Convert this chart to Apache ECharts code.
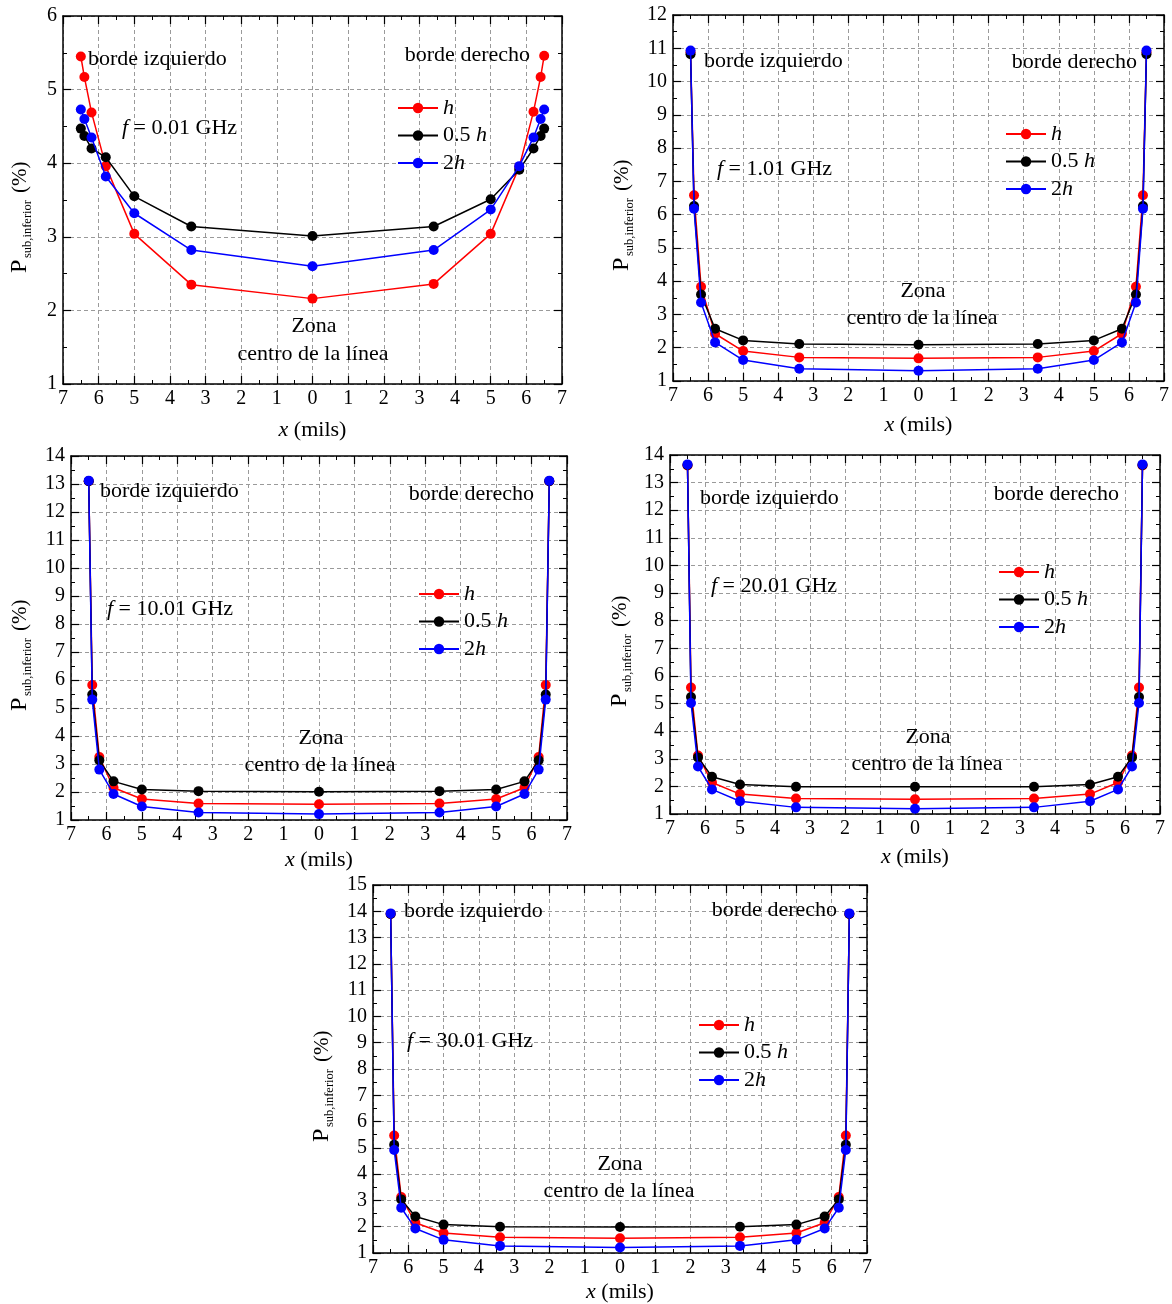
<!DOCTYPE html>
<html>
<head>
<meta charset="utf-8">
<script src="https://cdn.jsdelivr.net/npm/echarts@6/dist/echarts.min.js"></script>
<style>
html,body{margin:0;padding:0;background:#fff;}
#c{width:1172px;height:1304px;}
</style>
</head>
<body>
<div id="c"></div>
<script>
// ---------- DATA ----------
const xPos = [-6.5, -6.4, -6.2, -5.8, -5, -3.4, 0, 3.4, 5, 5.8, 6.2, 6.4, 6.5];
const seriesNames = ['h', '0.5 h', '2h'];
const freqLabels = ['0.01', '1.01', '10.01', '20.01', '30.01'];
const yMaxes = [6, 12, 14, 14, 15];

// f = 0.01 GHz
const p1_h   = [5.45, 5.17, 4.69, 3.96, 3.04, 2.35, 2.16, 2.36, 3.04, 3.95, 4.70, 5.17, 5.46];
const p1_05h = [4.47, 4.37, 4.20, 4.08, 3.55, 3.14, 3.01, 3.14, 3.51, 3.91, 4.20, 4.37, 4.47];
const p1_2h  = [4.73, 4.60, 4.35, 3.82, 3.32, 2.82, 2.60, 2.82, 3.37, 3.96, 4.35, 4.60, 4.73];
// f = 1.01 GHz
const p2_h   = [10.88, 6.58, 3.83, 2.42, 1.90, 1.71, 1.68, 1.71, 1.90, 2.42, 3.83, 6.58, 10.88];
const p2_05h = [10.82, 6.26, 3.60, 2.57, 2.22, 2.11, 2.09, 2.11, 2.22, 2.57, 3.60, 6.26, 10.82];
const p2_2h  = [10.93, 6.18, 3.36, 2.16, 1.63, 1.37, 1.31, 1.37, 1.63, 2.16, 3.36, 6.18, 10.93];
// f = 10.01 GHz
const p3_h   = [13.10, 5.82, 3.25, 2.15, 1.75, 1.59, 1.56, 1.59, 1.75, 2.15, 3.25, 5.82, 13.10];
const p3_05h = [13.10, 5.48, 3.13, 2.38, 2.09, 2.03, 2.01, 2.03, 2.09, 2.38, 3.13, 5.48, 13.10];
const p3_2h  = [13.12, 5.30, 2.80, 1.93, 1.48, 1.27, 1.21, 1.27, 1.48, 1.93, 2.80, 5.30, 13.12];
// f = 20.01 GHz
const p4_h   = [13.62, 5.58, 3.12, 2.14, 1.72, 1.56, 1.53, 1.56, 1.72, 2.14, 3.12, 5.58, 13.62];
const p4_05h = [13.64, 5.24, 3.05, 2.35, 2.07, 1.99, 1.99, 1.99, 2.07, 2.35, 3.05, 5.24, 13.64];
const p4_2h  = [13.66, 5.02, 2.72, 1.89, 1.46, 1.24, 1.19, 1.24, 1.46, 1.89, 2.72, 5.02, 13.66];
// f = 30.01 GHz
const p5_h   = [13.90, 5.47, 3.13, 2.15, 1.76, 1.60, 1.56, 1.60, 1.76, 2.15, 3.13, 5.47, 13.90];
const p5_05h = [13.90, 5.12, 3.04, 2.39, 2.08, 2.00, 1.99, 2.00, 2.08, 2.39, 3.04, 5.12, 13.90];
const p5_2h  = [13.92, 4.92, 2.72, 1.93, 1.50, 1.27, 1.21, 1.27, 1.50, 1.93, 2.72, 4.92, 13.92];

const panelData = [
  [p1_h, p1_05h, p1_2h],
  [p2_h, p2_05h, p2_2h],
  [p3_h, p3_05h, p3_2h],
  [p4_h, p4_05h, p4_2h],
  [p5_h, p5_05h, p5_2h]
];

// ---------- LAYOUT / STYLE ----------
const FONT = '"Liberation Serif", "Times New Roman", serif';
const colors = ['#ff0000', '#000000', '#0000ff'];
const layouts = [
  {grid:{left:63, top:16, width:499, height:368}, nameGap:35, legend:[397,97], yTitle:[20,273],
   izq:[88,59], der:[530,55], f:[122,128], zona:[314,326], centro:[313,354]},
  {grid:{left:673, top:15, width:497, height:366}, nameGap:33, legend:[1005,123], yTitle:[622,271],
   izq:[704,61], der:[1137,62], f:[717,169], zona:[923,291], centro:[922,318]},
  {grid:{left:71, top:456, width:496, height:364}, nameGap:29, legend:[418,583], yTitle:[20,711],
   izq:[100,491], der:[534,494], f:[107,609], zona:[321,738], centro:[320,765]},
  {grid:{left:670, top:455, width:490, height:359}, nameGap:32, legend:[998,561], yTitle:[620,707],
   izq:[700,498], der:[1119,494], f:[711,586], zona:[928,737], centro:[927,764]},
  {grid:{left:373, top:885, width:494, height:369}, nameGap:28, legend:[698,1014], yTitle:[322,1142],
   izq:[404,911], der:[837,910], f:[407,1041], zona:[620,1164], centro:[619,1191]}
];

const splitStyle = {show:true, lineStyle:{type:[4,3], color:'#9a9a9a', width:1}};
const lineAx = {show:true, onZero:false, lineStyle:{color:'#000', width:1.5}};
const tickAx = {show:true, inside:true, length:8, lineStyle:{color:'#000', width:1.2}};
const minorAx = {show:true, splitNumber:2, length:4, lineStyle:{color:'#000', width:1}};
const labelStyle = {fontFamily:FONT, fontSize:20, color:'#000'};

const grids = [], xAxes = [], yAxes = [], series = [], legends = [], graphics = [];

function txt(x, y, text, align, size, rich) {
  const s = {text:text, x:x, y:y, fill:'#000', font: (size||22) + 'px ' + FONT,
             textAlign: align || 'left', textVerticalAlign:'middle', align: align || 'left', verticalAlign:'middle'};
  if (rich) s.rich = rich;
  return {type:'text', z:50, style:s};
}

layouts.forEach((L, i) => {
  grids.push(Object.assign({containLabel:false}, L.grid));
  xAxes.push({
    type:'value', gridIndex:i, position:'bottom', min:-7, max:7, interval:1,
    axisLine:lineAx, axisTick:tickAx, minorTick:minorAx, splitLine:splitStyle,
    axisLabel:Object.assign({margin:5, formatter:v => String(Math.abs(v))}, labelStyle),
    name:'{i|x} (mils)', nameLocation:'middle', nameGap:L.nameGap,
    nameTextStyle:{fontFamily:FONT, fontSize:22, color:'#000',
      rich:{i:{fontFamily:FONT, fontSize:22, fontStyle:'italic', color:'#000'}}}
  });
  xAxes.push({
    type:'value', gridIndex:i, position:'top', min:-7, max:7, interval:1,
    axisLine:lineAx, axisTick:tickAx, minorTick:minorAx, splitLine:{show:false}, axisLabel:{show:false}
  });
  yAxes.push({
    type:'value', gridIndex:i, position:'left', min:1, max:yMaxes[i], interval:1,
    axisLine:lineAx, axisTick:tickAx, minorTick:minorAx, splitLine:splitStyle,
    axisLabel:Object.assign({margin:6}, labelStyle)
  });
  yAxes.push({
    type:'value', gridIndex:i, position:'right', min:1, max:yMaxes[i], interval:1,
    axisLine:lineAx, axisTick:tickAx, minorTick:minorAx, splitLine:{show:false}, axisLabel:{show:false}
  });
  panelData[i].forEach((arr, k) => {
    series.push({
      type:'line', name:seriesNames[k], xAxisIndex:2*i, yAxisIndex:2*i,
      data:xPos.map((x, j) => [x, arr[j]]),
      symbol:'circle', symbolSize:10, showSymbol:true,
      lineStyle:{color:colors[k], width:1.5}, itemStyle:{color:colors[k]},
      emphasis:{disabled:true}, z:2+k
    });
  });
  legends.push({
    data:seriesNames, orient:'vertical', left:L.legend[0], top:L.legend[1], padding:0,
    itemWidth:40, itemHeight:13, itemGap:5.5, selectedMode:false,
    formatter:function(name){
      if (name === 'h') return '{i|h}';
      if (name === '0.5 h') return '0.5 {i|h}';
      return '2{i|h}';
    },
    textStyle:{fontFamily:FONT, fontSize:22, lineHeight:22, color:'#000',
      rich:{i:{fontFamily:FONT, fontSize:22, lineHeight:22, fontStyle:'italic', color:'#000'}}}
  });
  // annotations
  graphics.push(txt(L.izq[0], L.izq[1], 'borde izquierdo', 'left'));
  graphics.push(txt(L.der[0], L.der[1], 'borde derecho', 'right'));
  graphics.push(txt(L.f[0], L.f[1], '{i|f} = ' + freqLabels[i] + ' GHz', 'left', 22,
    {i:{fontFamily:FONT, fontSize:22, fontStyle:'italic', fill:'#000', color:'#000'}}));
  graphics.push(txt(L.zona[0], L.zona[1], 'Zona', 'center'));
  graphics.push(txt(L.centro[0], L.centro[1], 'centro de la línea', 'center'));
  // y axis title (rotated)
  graphics.push({
    type:'group', x:L.yTitle[0], y:L.yTitle[1], rotation:Math.PI/2, z:50,
    children:[
      txt(0, 0, 'P', 'left', 24),
      txt(15, 8, 'sub,inferior', 'left', 12.5),
      txt(80, 0, '(%)', 'left', 21)
    ]
  });
});

const chart = echarts.init(document.getElementById('c'), null, {renderer:'canvas'});
chart.setOption({
  animation:false,
  backgroundColor:'#ffffff',
  grid:grids, xAxis:xAxes, yAxis:yAxes, series:series, legend:legends, graphic:graphics
});
</script>
</body>
</html>
